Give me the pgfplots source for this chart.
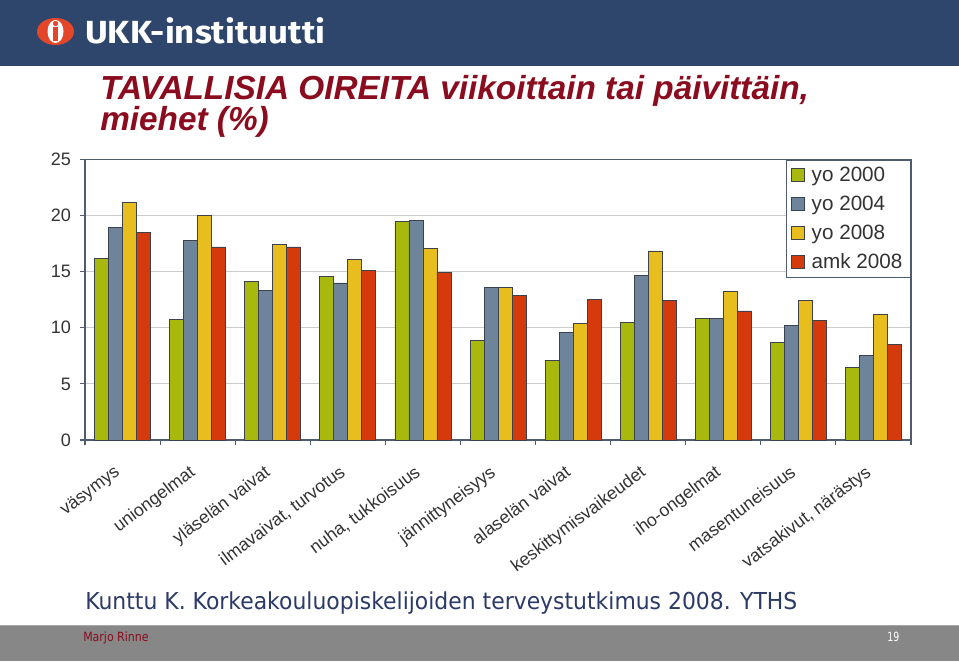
\documentclass[border=0pt]{standalone}
\usepackage{pgfplots}
\pgfplotsset{compat=1.18}
\usepackage{pgfplotstable}
\usepackage{graphicx}
\usepackage{fontspec}
\setmainfont{Liberation Sans}
\newfontfamily\dejavu{DejaVu Sans}
\newfontfamily\fira{Fira Sans}
\definecolor{cgreen}{HTML}{A8B80C}
\definecolor{cblue}{HTML}{6E849A}
\definecolor{cyellow}{HTML}{E8BE1E}
\definecolor{cred}{HTML}{D43A0C}
\definecolor{edge}{HTML}{3C4150}
\definecolor{axiscol}{HTML}{4F5B6E}
\definecolor{band}{HTML}{2E466B}
\definecolor{titlered}{HTML}{8A0C1E}
\definecolor{srcblue}{HTML}{2B3A67}
\definecolor{footgray}{HTML}{878787}
\definecolor{logored}{HTML}{E4462A}
\definecolor{txt}{HTML}{333333}

\pgfplotstableread{
x a b c d
0 16.2 18.95 21.2 18.5
1 10.75 17.8 20.0 17.2
2 14.1 13.3 17.4 17.2
3 14.55 14.0 16.1 15.15
4 19.5 19.6 17.05 14.95
5 8.85 13.6 13.6 12.85
6 7.05 9.55 10.4 12.5
7 10.5 14.7 16.85 12.4
8 10.85 10.85 13.2 11.5
9 8.7 10.2 12.4 10.65
10 6.5 7.5 11.15 8.5
}\data

\begin{document}
\begin{tikzpicture}
\begin{scope}[x=0.75pt,y=-0.75pt]
\path[use as bounding box] (0,0) rectangle (959,663);
\fill[white] (0,0) rectangle (959,663);
\fill[band] (0,0) rectangle (959,66);
% logo
\fill[logored] (55.5,31.5) ellipse [x radius=18.5, y radius=13.5];
\fill[white] (55.5,31.5) ellipse [x radius=8, y radius=11.5];
\fill[logored] (55.5,23.5) circle [radius=2.6];
\fill[logored] (53.3,27.5) rectangle (57.7,41);
\node[anchor=base west, inner sep=0pt, text=white] at (85,44)
  {\resizebox{180pt}{\height}{\fira\fontsize{24}{24}\selectfont\bfseries UKK-instituutti}};
% title
\node[anchor=base west, inner sep=0pt, text=titlered] at (100,100)
  {\fontsize{25}{25}\selectfont\bfseries\itshape TAVALLISIA OIREITA viikoittain tai päivittäin,};
\node[anchor=base west, inner sep=0pt, text=titlered] at (100,131)
  {\fontsize{25}{25}\selectfont\bfseries\itshape miehet (\%)};
% source
\node[anchor=base west, inner sep=0pt, text=srcblue] at (85,609)
  {\resizebox{534pt}{\height}{\dejavu\fontsize{17.5}{18}\selectfont Kunttu K. Korkeakouluopiskelijoiden terveystutkimus 2008. YTHS}};
% footer
\fill[footgray] (0,625) rectangle (959,661);
\draw[gray!70, line width=0.75pt] (0,625.5) -- (959,625.5);
\node[anchor=base west, inner sep=0pt, text=titlered] at (83,641)
  {\resizebox{49pt}{\height}{\dejavu\fontsize{9.5}{10}\selectfont Marjo Rinne}};
\node[anchor=base west, inner sep=0pt, text=white] at (887,641)
  {\resizebox{9pt}{\height}{\dejavu\fontsize{9.5}{10}\selectfont 19}};
\end{scope}

\begin{axis}[
  at={(63.75pt,-330pt)}, anchor=south west,
  scale only axis, width=619.5pt, height=210.4pt,
  xmin=-0.5, xmax=10.5, ymin=0, ymax=25,
  ybar=0pt, bar width=10.5pt,
  xtick={0,...,10},
  xticklabels={väsymys, uniongelmat, yläselän vaivat, {ilmavaivat, turvotus}, {nuha, tukkoisuus}, jännittyneisyys, alaselän vaivat, keskittymisvaikeudet, iho-ongelmat, masentuneisuus, {vatsakivut, närästys}},
  minor xtick={-0.5,0.5,1.5,...,10.5},
  ytick={0,5,...,25},
  ymajorgrids, grid style={draw=black!20, line width=0.6pt},
  tick align=outside, tick pos=left,
  major tick length=4pt, minor tick length=4pt,
  major x tick style={draw=none},
  minor x tick style={draw=axiscol, line width=0.8pt},
  ytick style={draw=axiscol, line width=0.8pt},
  axis line style={draw=axiscol, line width=0.8pt},
  /pgf/number format/assume math mode=true,
  yticklabel style={font=\fontsize{13.5}{14}\selectfont, text=txt, xshift=-3pt},
  xticklabel style={font=\fontsize{13.3}{14}\selectfont, text=txt, rotate=37, anchor=north east, inner sep=1pt, yshift=-6pt, xshift=-13pt},
  legend style={at={(1,1)}, anchor=north east, draw=axiscol, line width=0.8pt,
    font=\fontsize{15.5}{17}\selectfont, text=txt, row sep=5.4pt, inner xsep=4pt, inner ysep=3pt,
    cells={anchor=west}, /tikz/every odd column/.append style={column sep=3pt}},
  sqleg/.style={legend image code/.code={\draw[##1, draw=edge, line width=0.6pt] (0pt,-4.8pt) rectangle (9.6pt,4.8pt);}},
]
\addplot[fill=cgreen, draw=edge, line width=0.6pt, sqleg] table[x=x,y=a]{\data};
\addlegendentry{yo 2000}
\addplot[fill=cblue, draw=edge, line width=0.6pt, sqleg] table[x=x,y=b]{\data};
\addlegendentry{yo 2004}
\addplot[fill=cyellow, draw=edge, line width=0.6pt, sqleg] table[x=x,y=c]{\data};
\addlegendentry{yo 2008}
\addplot[fill=cred, draw=edge, line width=0.6pt, sqleg] table[x=x,y=d]{\data};
\addlegendentry{amk 2008}
\end{axis}
\end{tikzpicture}
\end{document}
